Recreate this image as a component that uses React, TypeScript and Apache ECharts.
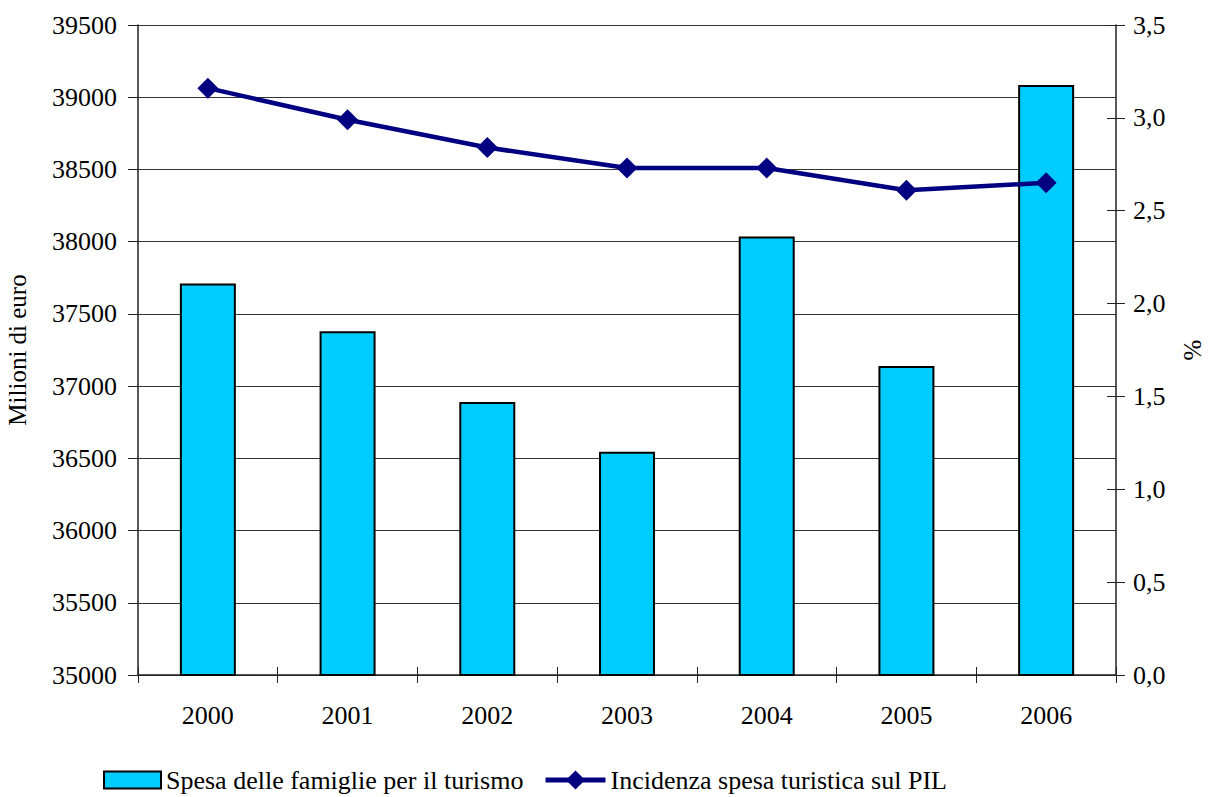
import React, { useEffect, useRef } from "react";
import * as echarts from "echarts";

const years = ["2000", "2001", "2002", "2003", "2004", "2005", "2006"];
const spesa = [37710, 37380, 36890, 36545, 38035, 37140, 39085];
const incidenza = [3.16, 2.99, 2.84, 2.73, 2.73, 2.61, 2.65];
const leftTicks = { min: 35000, max: 39500, interval: 500 };
const rightTicks = { min: 0, max: 3.5, interval: 0.5 };
const barName = "Spesa delle famiglie per il turismo";
const lineName = "Incidenza spesa turistica sul PIL";

const FONT = "Liberation Serif";

export default function App() {
  const ref = useRef<HTMLDivElement>(null);
  useEffect(() => {
    if (!ref.current) return;
    const chart = echarts.init(ref.current, null, { renderer: "svg" });
    const axisColor = "#222";
    const txt = { fontFamily: FONT, fontSize: 26, color: "#000" };
    chart.setOption({
      animation: false,
      textStyle: { fontFamily: FONT, color: "#000" },
      grid: { left: 138, right: 92, top: 25, bottom: 122, outerBoundsMode: "none", containLabel: false },
      legend: [
        {
          top: 767,
          left: 103,
          padding: 0,
          itemWidth: 57,
          itemHeight: 17,
          textStyle: { ...txt },
          data: [
            {
              name: barName,
              icon: "rect",
              itemStyle: { color: "#00CCFF", borderColor: "#000", borderWidth: 2 },
            },
          ],
        },
        {
          top: 767,
          left: 543,
          padding: 0,
          itemWidth: 60,
          itemHeight: 24,
          textStyle: { ...txt },
          lineStyle: { width: 5, color: "#000080" },
          data: [{ name: lineName }],
        },
      ],
      xAxis: [
        {
          type: "category",
          data: years,
          boundaryGap: true,
          axisLine: { lineStyle: { color: axisColor, width: 1.5 } },
          axisTick: { show: true, length: 8, interval: 0, lineStyle: { color: axisColor } },
          axisLabel: { ...txt, margin: 27 },
        },
        {
          type: "category",
          data: years,
          position: "bottom",
          boundaryGap: true,
          axisLine: { show: false },
          axisTick: { show: true, inside: true, length: 8, interval: 0, lineStyle: { color: axisColor } },
          axisLabel: { show: false },
        },
      ],
      yAxis: [
        {
          type: "value",
          position: "left",
          ...leftTicks,
          name: "Milioni di euro",
          nameLocation: "middle",
          nameGap: 108,
          nameTextStyle: { fontFamily: FONT, fontSize: 25, color: "#000" },
          axisLine: { show: true, lineStyle: { color: axisColor, width: 1.5 } },
          axisTick: { show: true, length: 10, lineStyle: { color: axisColor } },
          axisLabel: { ...txt, margin: 21, formatter: (v: number) => String(v) },
          splitLine: { show: true, lineStyle: { color: "#333", width: 1 } },
        },
        {
          type: "value",
          position: "right",
          ...rightTicks,
          name: "%",
          nameLocation: "middle",
          nameGap: 64,
          nameRotate: 90,
          nameTextStyle: { fontFamily: FONT, fontSize: 25, color: "#000" },
          axisLine: { show: true, lineStyle: { color: axisColor, width: 1.5 } },
          axisTick: { show: true, length: 9, lineStyle: { color: axisColor } },
          axisLabel: {
            ...txt,
            margin: 17,
            formatter: (v: number) => v.toFixed(1).replace(".", ","),
          },
          splitLine: { show: false },
        },
        {
          type: "value",
          position: "right",
          ...rightTicks,
          axisLine: { show: false },
          axisTick: { show: true, inside: true, length: 9, lineStyle: { color: axisColor } },
          axisLabel: { show: false },
          splitLine: { show: false },
        },
      ],
      series: [
        {
          name: barName,
          type: "bar",
          yAxisIndex: 0,
          data: spesa,
          barWidth: 56,
          itemStyle: { color: "#00CCFF", borderColor: "#000", borderWidth: 2 },
        },
        {
          name: lineName,
          type: "line",
          yAxisIndex: 1,
          data: incidenza,
          symbol: "diamond",
          symbolSize: 21,
          lineStyle: { color: "#000080", width: 4.5 },
          itemStyle: { color: "#000080" },
        },
      ],
    });
    return () => chart.dispose();
  }, []);
  return <div ref={ref} style={{ width: 1208, height: 797, position: "absolute", left: 0, top: 0 }} />;
}
